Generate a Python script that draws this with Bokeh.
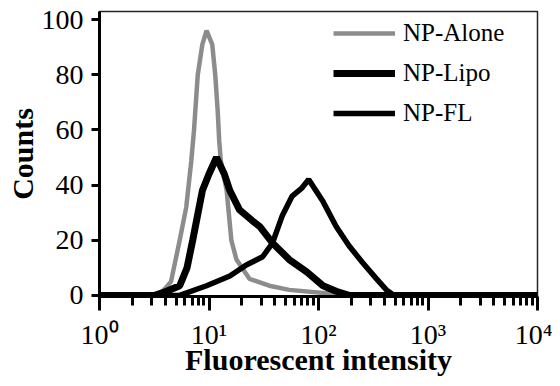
from bokeh.plotting import figure
from bokeh.models import Range1d, Legend, LegendItem, FixedTicker
from bokeh.embed import file_html
from bokeh.resources import INLINE

# Fluorescent intensity (x) and counts (y)
alone_x = [1, 3.5, 4.5, 5.4, 6.2, 6.9, 7.3, 7.5, 7.9, 8.7, 9.5, 10.7, 11.4, 12.0, 12.4, 12.8, 14.5, 16.0, 17.8, 23.4, 35.5, 54, 140, 10000]
alone_y = [0, 0, 5, 20, 32, 49, 60, 67, 80, 91, 96, 91, 80, 67, 56, 49, 38, 20, 13, 6, 3.5, 2, 0.5, 0]

lipo_x = [1, 3.2, 4.1, 5.4, 6.3, 7.1, 8.7, 10, 11.7, 13.8, 15.5, 19, 25, 29, 38, 54, 78, 110, 145, 190, 10000]
lipo_y = [0, 0, 1.5, 3.5, 10, 20, 38, 44, 50, 44, 38, 31, 27, 25, 19, 13, 8.5, 3.5, 1.5, 0, 0]

fl_x = [1, 5.4, 9.5, 15.5, 21.9, 30.9, 38, 46.8, 57.5, 70.8, 81.3, 110, 145, 190, 251, 339, 417, 490, 10000]
fl_y = [0, 0, 3.5, 7, 11, 14, 19, 29, 36, 39, 42, 34, 25, 18, 12, 6, 2, 0, 0]

series_names = ["NP-Alone", "NP-Lipo", "NP-FL"]
y_ticks = [0, 20, 40, 60, 80, 100]
x_ticks = [1, 10, 100, 1000, 10000]
x_tick_labels = ["10\u2070", "10\u00b9", "10\u00b2", "10\u00b3", "10\u2074"]
x_title = "Fluorescent intensity"
y_title = "Counts"

FONT = "Liberation Serif"
W, H = 552, 378
LEFT, RIGHT, TOP, BOTTOM = 99, 15, 11, 79

p = figure(width=W, height=H, x_axis_type="log",
           x_range=Range1d(1, 10000), y_range=Range1d(-0.4, 102.9),
           output_backend="svg", toolbar_location=None,
           min_border_left=LEFT, min_border_right=RIGHT,
           min_border_top=TOP, min_border_bottom=BOTTOM)

p.grid.visible = False
p.background_fill_color = "white"
p.outline_line_color = "black"
p.outline_line_width = 1.5
p.outline_line_alpha = 0.85

r_alone = p.line(alone_x, alone_y, line_color="#8c8c8c", line_width=4.5)
r_fl = p.line(fl_x, fl_y, line_color="black", line_width=5.5)
r_lipo = p.line(lipo_x, lipo_y, line_color="black", line_width=7)

legend = Legend(items=[LegendItem(label=series_names[0], renderers=[r_alone]),
                       LegendItem(label=series_names[1], renderers=[r_lipo]),
                       LegendItem(label=series_names[2], renderers=[r_fl])],
                location=(234, 168))
legend.border_line_color = None
legend.background_fill_alpha = 0
legend.padding = 0
legend.margin = 0
legend.spacing = 10
legend.label_height = 30
legend.glyph_height = 30
legend.glyph_width = 62
legend.label_standoff = 8
legend.label_text_font = FONT
legend.label_text_font_size = "25px"
legend.label_text_color = "black"
p.add_layout(legend)

# Y axis
p.yaxis.ticker = y_ticks
p.yaxis.ticker.num_minor_ticks = 4
p.yaxis.axis_label = y_title
p.yaxis.axis_label_text_font = FONT
p.yaxis.axis_label_text_font_style = "bold"
p.yaxis.axis_label_text_font_size = "30px"
p.yaxis.axis_label_standoff = 0
p.yaxis.major_label_text_font = FONT
p.yaxis.major_label_text_font_size = "28px"
p.yaxis.major_label_standoff = 8
p.yaxis.axis_line_width = 3
p.yaxis.major_tick_line_width = 3
p.yaxis.minor_tick_line_width = 3
p.yaxis.major_tick_out = 8
p.yaxis.major_tick_in = 0
p.yaxis.minor_tick_out = 5
p.yaxis.minor_tick_in = 0

# X axis
minor = [m * d for d in x_ticks[:-1] for m in range(2, 10)]
p.xaxis.ticker = FixedTicker(ticks=x_ticks, minor_ticks=minor)
p.xaxis.major_label_overrides = dict(zip(x_ticks, x_tick_labels))
p.xaxis.axis_label = x_title
p.xaxis.axis_label_text_font = FONT
p.xaxis.axis_label_text_font_style = "bold"
p.xaxis.axis_label_text_font_size = "30px"
p.xaxis.axis_label_standoff = -10
p.xaxis.major_label_text_font = FONT
p.xaxis.major_label_text_font_size = "28px"
p.xaxis.major_label_standoff = 8
p.xaxis.axis_line_width = 3
p.xaxis.major_tick_line_width = 3
p.xaxis.minor_tick_line_width = 3
p.xaxis.major_tick_out = 14
p.xaxis.major_tick_in = 0
p.xaxis.minor_tick_out = 9
p.xaxis.minor_tick_in = 0

for ax in (p.xaxis, p.yaxis):
    ax.major_label_text_color = "black"
    ax.axis_label_text_color = "black"

open("out.html", "w").write(file_html(p, INLINE))
